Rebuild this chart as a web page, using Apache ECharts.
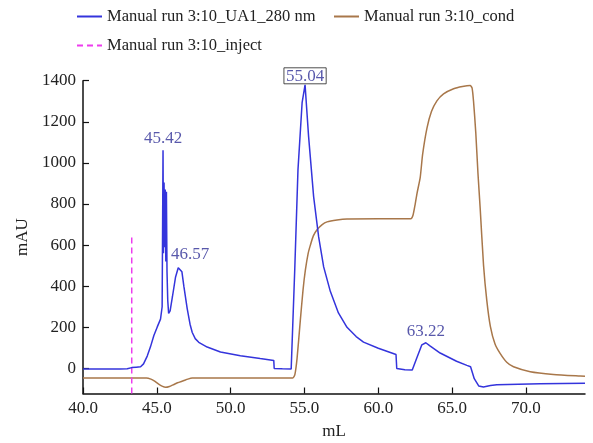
<!DOCTYPE html>
<html>
<head>
<meta charset="utf-8">
<script src="https://cdn.jsdelivr.net/npm/echarts@6/dist/echarts.min.js"></script>
<style>
  html, body { margin: 0; padding: 0; background: #fff; }
  #chart { width: 593px; height: 443px; }
</style>
</head>
<body>
<div id="chart"></div>
<script>
// UV 280 nm trace (mL, mAU)
var uvX = [40.0, 42.5, 43.0, 43.3, 43.6, 43.9, 44.1, 44.35, 44.57, 44.8, 45.03, 45.25, 45.36,
    45.42, 45.45, 45.49, 45.53, 45.57, 45.61, 45.65, 45.69, 45.74, 45.8, 45.9, 46.06, 46.27,
    46.45, 46.57, 46.7, 46.83, 47.06, 47.25, 47.4, 47.6, 47.84, 48.41, 49.31, 50.66, 52.0, 52.92,
    52.95, 53.5, 54.1, 54.34, 54.56, 54.84, 55.04, 55.28, 55.62, 55.96, 56.3, 56.75, 57.3, 57.88,
    58.5, 59.0, 60.0, 61.2, 61.25, 61.8, 62.3, 62.6, 62.95, 63.22, 63.5, 64.19, 65.3, 66.0, 66.25,
    66.5, 66.8, 67.12, 67.6, 68.03, 70.96, 74.0];
var uvY = [-3, -3, -2, 4, 6, 8, 22, 60, 105, 160, 202, 240, 300,
    1062, 560, 905, 590, 870, 520, 860, 470, 330, 268, 280, 350, 445,
    490, 497, 470, 400, 290, 215, 175, 145, 127, 104, 80, 62, 48, 39,
    0, -2, -3, 478, 966, 1293, 1380, 1128, 836, 640, 494, 375, 270, 200,
    155, 128, 98, 68, 0, -6, -8, 50, 115, 125, 110, 75, 35, 15, 8,
    -50, -85, -90, -83, -79, -75, -72];

// conductivity trace
var condX = [40.0, 44.3, 44.6, 44.85, 45.1, 45.35, 45.6, 45.85, 46.1, 46.4, 46.8, 47.1, 47.4,
    54.2, 54.35, 54.5, 54.72, 54.9, 55.06, 55.25, 55.4, 55.6, 55.85, 56.2, 56.53, 57.2, 57.88,
    60.0, 62.2, 62.35, 62.5, 62.62, 62.84, 63.0, 63.3, 63.6, 63.97, 64.42, 65.1, 65.7, 66.22, 66.35,
    66.45, 66.6, 66.75, 66.9, 67.13, 67.35, 67.59, 67.9, 68.25, 68.7, 69.16, 70.29, 71.86, 73.67, 74.0];
var condY = [-46, -46, -52, -62, -75, -86, -92, -88, -80, -70, -60, -52, -47,
    -46, -30, 50, 235, 380, 478, 560, 600, 645, 675, 700, 713, 722, 727,
    728, 728, 745, 800, 851, 930, 1040, 1170, 1250, 1302, 1336, 1361, 1372, 1377, 1365,
    1300, 1150, 950, 780, 500, 330, 205, 120, 73, 30, 8, -16, -29, -37, -38];

// injection mark
var injectX = [43.3, 43.3];
var injectY = [-122, 656];

// labelled peaks
var peakX = [45.42, 46.57, 55.04, 63.22];
var peakY = [1062, 497, 1380, 125];

var xTicks = [40, 45, 50, 55, 60, 65, 70];
var yTicks = [0, 200, 400, 600, 800, 1000, 1200, 1400];

var names = ['Manual run 3:10_UA1_280 nm', 'Manual run 3:10_cond', 'Manual run 3:10_inject'];

function pairs(xs, ys) {
    var out = [];
    for (var i = 0; i < xs.length; i++) out.push([xs[i], ys[i]]);
    return out;
}

var FONT = 'Liberation Serif';
var peakData = pairs(peakX, peakY).map(function (p, i) {
    var item = { value: p };
    if (i === 1) item.label = { offset: [10, 0] };
    if (i === 2) item.label = { borderColor: '#222', borderWidth: 1, padding: [0, 2, -1, 2], distance: 1 };
    return item;
});

var legendBase = {
    itemWidth: 25,
    itemHeight: 10,
    itemStyle: { opacity: 0 },
    textStyle: { fontFamily: FONT, fontSize: 16.5, color: '#222' }
};

var chart = echarts.init(document.getElementById('chart'));
chart.setOption({
    animation: false,
    backgroundColor: '#fff',
    legend: [
        Object.assign({ left: 71, top: 3, data: [names[0]] }, legendBase),
        Object.assign({ left: 328, top: 3, data: [names[1]] }, legendBase),
        Object.assign({ left: 71, top: 32, data: [names[2]] }, legendBase)
    ],
    grid: { left: 83, right: 8, top: 80.7, bottom: 49.5, containLabel: false, outerBoundsMode: 'none' },
    xAxis: {
        type: 'value',
        min: 40,
        max: 74,
        name: 'mL',
        nameLocation: 'middle',
        nameGap: 30,
        nameTextStyle: { fontFamily: FONT, fontSize: 17, color: '#222' },
        axisLine: { onZero: false, lineStyle: { color: '#111', width: 1.5 } },
        axisTick: { inside: true, length: 6, customValues: xTicks, lineStyle: { color: '#111', width: 1.2 } },
        axisLabel: {
            customValues: xTicks, margin: 7, fontFamily: FONT, fontSize: 17, color: '#222',
            formatter: function (v) { return v.toFixed(1); }
        },
        splitLine: { show: false }
    },
    yAxis: {
        type: 'value',
        min: -122,
        max: 1400,
        name: 'mAU',
        nameLocation: 'middle',
        nameGap: 43,
        nameTextStyle: { fontFamily: FONT, fontSize: 17, color: '#222' },
        axisLine: { show: true, onZero: false, lineStyle: { color: '#111', width: 1.5 } },
        axisTick: { show: true, inside: true, length: 6, customValues: yTicks, lineStyle: { color: '#111', width: 1.2 } },
        axisLabel: {
            customValues: yTicks, margin: 7, fontFamily: FONT, fontSize: 17, color: '#222',
            formatter: function (v) { return String(v); }
        },
        splitLine: { show: false }
    },
    series: [
        {
            name: names[0],
            type: 'line',
            data: pairs(uvX, uvY),
            showSymbol: false,
            symbol: 'none',
            color: '#3434dc',
            lineStyle: { color: '#3434dc', width: 1.5 },
            z: 3
        },
        {
            name: names[1],
            type: 'line',
            data: pairs(condX, condY),
            showSymbol: false,
            symbol: 'none',
            smooth: 0.2,
            color: '#a8774a',
            lineStyle: { color: '#a8774a', width: 1.5 },
            z: 2
        },
        {
            name: names[2],
            type: 'line',
            data: pairs(injectX, injectY),
            showSymbol: false,
            symbol: 'none',
            color: '#ee3cee',
            lineStyle: { color: '#ee3cee', width: 1.5, type: [6, 4] },
            z: 2
        },
        {
            name: 'peaks',
            type: 'scatter',
            data: peakData,
            symbolSize: 0,
            silent: true,
            label: {
                show: true,
                position: 'top',
                distance: 3,
                fontFamily: FONT,
                fontSize: 17,
                color: '#2e2e96',
                formatter: function (p) { return p.value[0].toFixed(2); }
            },
            z: 4
        }
    ]
});
</script>
</body>
</html>
